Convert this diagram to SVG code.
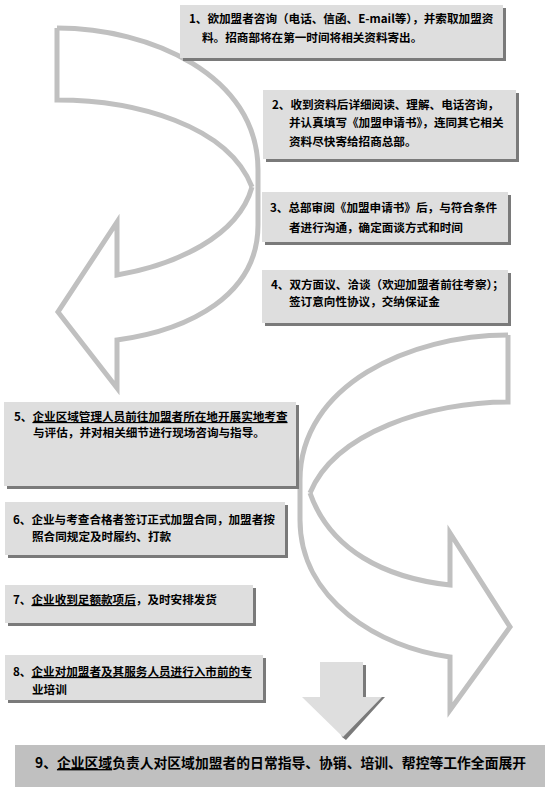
<svg xmlns="http://www.w3.org/2000/svg" width="550" height="793" viewBox="0 0 550 793">
<style>
.arrow{fill:none;stroke:#c0c0c0;stroke-width:5;stroke-linejoin:miter}
.box{fill:#dedede}
.sh{fill:#7a7a7a}
.t{font-family:"Noto Sans CJK SC","Noto Sans CJK TC",sans-serif;font-weight:bold;font-size:11.6px;fill:#000}
.t9{font-size:13.8px}
.u{text-decoration:underline}
</style>
<rect width="550" height="793" fill="#fff"/>
<g id="connectors">
<g id="curve-left">
<path class="arrow" d="M57,28 C150,28 258,75 258,170 L258,225 C258,295 190,330 117,340 L117,388 L58,312 L117,222 L117,275 C175,265 238,237 252,187"/>
<path class="arrow" d="M57,28 L57,100 C135,100 228,125 252,187"/>
</g>
<g id="curve-right">
<path class="arrow" d="M508,335 C410,335 300,385 300,480 L300,520 C300,600 380,648 450,657 L450,710 L510,627 L450,533 L450,585 C385,578 330,550 310,493"/>
<path class="arrow" d="M508,335 L508,402 C430,402 335,432 310,493"/>
</g>
<g id="down-arrow">
<polygon points="323,665 366,665 366,697 385,697 346,740 342,737" fill="#7a7a7a"/>
<polygon points="320,662 363,662 363,697 382,697 343,737 302,697 320,697" fill="#dedede"/>
</g>
</g>
<g id="node1">
<rect class="sh" x="183" y="8" width="323" height="53"/>
<rect class="box" x="180" y="5" width="323" height="53"/>
<text class="t" x="189" y="23">1、欲加盟者咨询（电话、信函、E-mail等），并索取加盟资</text>
<text class="t" x="202" y="42">料。招商部将在第一时间将相关资料寄出。</text>
</g>
<g id="node2">
<rect class="sh" x="266" y="93" width="253" height="69"/>
<rect class="box" x="263" y="90" width="253" height="69"/>
<text class="t" x="272" y="109">2、收到资料后详细阅读、理解、电话咨询，</text>
<text class="t" x="289" y="127">并认真填写《加盟申请书》，连同其它相关</text>
<text class="t" x="289" y="146">资料尽快寄给招商总部。</text>
</g>
<g id="node3">
<rect class="sh" x="265" y="195" width="246" height="50"/>
<rect class="box" x="262" y="192" width="246" height="50"/>
<text class="t" x="270" y="212">3、总部审阅《加盟申请书》后，与符合条件</text>
<text class="t" x="289" y="232">者进行沟通，确定面谈方式和时间</text>
</g>
<g id="node4">
<rect class="sh" x="265" y="273" width="246" height="53"/>
<rect class="box" x="262" y="270" width="246" height="53"/>
<text class="t" x="271" y="289">4、双方面议、洽谈（欢迎加盟者前往考察）；</text>
<text class="t" x="289" y="306">签订意向性协议，交纳保证金</text>
</g>
<g id="node5">
<rect class="sh" x="7" y="405" width="292" height="84"/>
<rect class="box" x="4" y="402" width="292" height="84"/>
<text class="t" x="14" y="421">5、<tspan class="u">企业区域管理人员前往加盟者所在地开展实地考查</tspan></text>
<text class="t" x="33" y="437">与评估，并对相关细节进行现场咨询与指导。</text>
</g>
<g id="node6">
<rect class="sh" x="8" y="505" width="280" height="53"/>
<rect class="box" x="5" y="502" width="280" height="53"/>
<text class="t" x="13" y="524">6、企业与考查合格者签订正式加盟合同，加盟者按</text>
<text class="t" x="32" y="541">照合同规定及时履约、打款</text>
</g>
<g id="node7">
<rect class="sh" x="8" y="588" width="248" height="38"/>
<rect class="box" x="5" y="585" width="248" height="38"/>
<text class="t" x="13" y="604">7、<tspan class="u">企业收到足额款项后</tspan>，及时安排发货</text>
</g>
<g id="node8">
<rect class="sh" x="8" y="658" width="258" height="45"/>
<rect class="box" x="5" y="655" width="258" height="45"/>
<text class="t" x="13" y="676">8、<tspan class="u">企业对加盟者及其服务人员进行入市前的专</tspan></text>
<text class="t" x="32" y="694">业培训</text>
</g>
<g id="node9">
<rect x="15" y="745" width="530" height="42" fill="#c0c0c0"/>
<text class="t t9" x="35" y="768">9、<tspan class="u">企业区域</tspan>负责人对区域加盟者的日常指导、协销、培训、帮控等工作全面展开</text>
</g>
</svg>
